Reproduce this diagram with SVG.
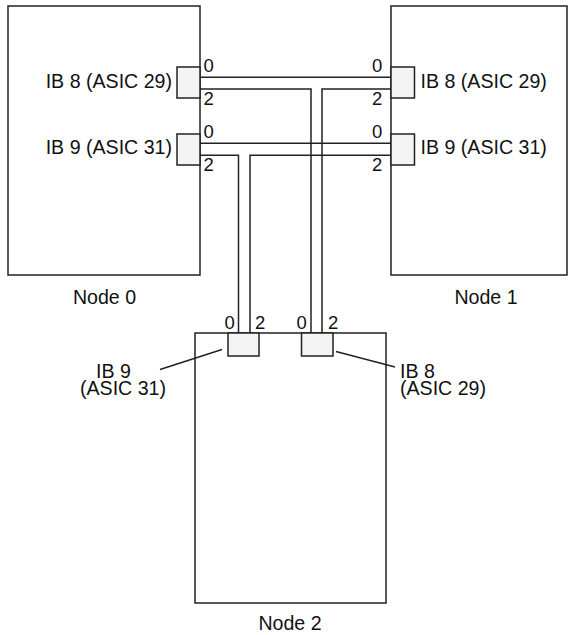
<svg xmlns="http://www.w3.org/2000/svg" width="574" height="635" viewBox="0 0 574 635">
<style>
.box{fill:#fff;stroke:#222;stroke-width:1.5}
.port{fill:#f4f4f4;stroke:#222;stroke-width:1.5}
.ln{fill:none;stroke:#222;stroke-width:1.5}
text{font-family:"Liberation Sans",Arial,sans-serif;font-size:19.6px;fill:#111}
.d{font-size:18.5px}
</style>
<rect width="574" height="635" fill="#fff"/>
<g id="node0">
<rect class="box" x="8" y="6" width="192" height="269"/>
<text x="104.5" y="303.5" text-anchor="middle">Node 0</text>
</g>
<g id="node1">
<rect class="box" x="391" y="6" width="176" height="269"/>
<text x="486" y="303.5" text-anchor="middle">Node 1</text>
</g>
<g id="node2">
<rect class="box" x="195" y="333" width="191" height="270"/>
<text x="290" y="630" text-anchor="middle">Node 2</text>
</g>
<g id="connectors">
<path class="ln" d="M200 77.3H391M200 89H311V333M322 333V89H391"/>
<path class="ln" d="M200 143.3H391M200 155.3H238.5V333M250 333V155.3H391"/>
<path class="ln" d="M160 369.5L222 349.5M336 351.5L395 367"/>
</g>
<g id="n0p8">
<rect class="port" x="177" y="67" width="23" height="31"/>
<text x="172" y="88" text-anchor="end">IB 8 (ASIC 29)</text>
<text class="d" x="203.5" y="72">0</text>
<text class="d" x="203.5" y="104.5">2</text>
</g>
<g id="n0p9">
<rect class="port" x="177" y="134" width="23" height="31"/>
<text x="172" y="154" text-anchor="end">IB 9 (ASIC 31)</text>
<text class="d" x="203.5" y="137.5">0</text>
<text class="d" x="203.5" y="170.5">2</text>
</g>
<g id="n1p8">
<rect class="port" x="391" y="67" width="23.5" height="31"/>
<text x="420.5" y="88">IB 8 (ASIC 29)</text>
<text class="d" x="372" y="72">0</text>
<text class="d" x="372" y="104.5">2</text>
</g>
<g id="n1p9">
<rect class="port" x="391" y="134" width="23.5" height="31"/>
<text x="420.5" y="154">IB 9 (ASIC 31)</text>
<text class="d" x="372" y="137.5">0</text>
<text class="d" x="372" y="170.5">2</text>
</g>
<g id="n2p9">
<rect class="port" x="228" y="333" width="31" height="23"/>
<text class="d" x="224.5" y="329">0</text>
<text class="d" x="255" y="329">2</text>
<text x="96" y="377.5">IB 9</text>
<text x="80" y="395">(ASIC 31)</text>
</g>
<g id="n2p8">
<rect class="port" x="301.5" y="333" width="31.5" height="23"/>
<text class="d" x="296.5" y="329">0</text>
<text class="d" x="328" y="329">2</text>
<text x="400" y="377.5">IB 8</text>
<text x="400" y="395">(ASIC 29)</text>
</g>
</svg>
